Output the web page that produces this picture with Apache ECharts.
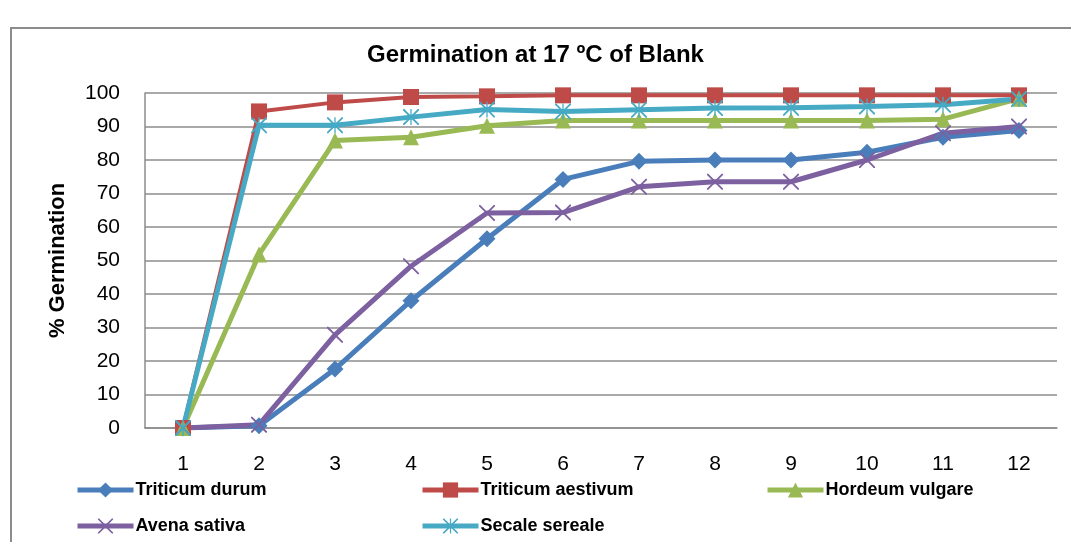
<!DOCTYPE html>
<html>
<head>
<meta charset="utf-8">
<script src="https://cdn.jsdelivr.net/npm/echarts@6/dist/echarts.min.js"></script>
<style>
  html, body { margin: 0; padding: 0; background: #fff; }
</style>
</head>
<body>
<div id="main" style="width: 1071px;height:542px;"></div>
<script>
// days
var days = ['1', '2', '3', '4', '5', '6', '7', '8', '9', '10', '11', '12'];
// % germination per species
var triticumDurum = [0, 0.7, 17.6, 38, 56.5, 74.2, 79.6, 80, 80, 82.3, 86.8, 88.8];
var triticumAestivum = [0, 94.5, 97.2, 98.8, 99, 99.3, 99.3, 99.3, 99.3, 99.3, 99.3, 99.3];
var hordeumVulgare = [0, 51.8, 85.8, 86.8, 90.2, 91.8, 91.8, 91.8, 91.8, 91.8, 92.2, 98.3];
var avenaSativa = [0, 1, 27.8, 48.3, 64.2, 64.3, 72, 73.5, 73.5, 80, 88, 90];
var secaleSereale = [0, 90.4, 90.4, 92.8, 95.1, 94.5, 95, 95.5, 95.6, 96, 96.5, 98.2];
var yTicks = [0, 10, 20, 30, 40, 50, 60, 70, 80, 90, 100];

var xMark = 'path://M0,0 L1.6,0 L10,8.4 L18.4,0 L20,0 L20,1.6 L11.6,10 L20,18.4 L20,20 L18.4,20 L10,11.6 L1.6,20 L0,20 L0,18.4 L8.4,10 L0,1.6 Z';
var starMark = xMark + ' M9.2,0 L10.8,0 L10.8,20 L9.2,20 Z';

var myChart = echarts.init(document.getElementById('main'));

function line(name, data, color, symbol, size, width) {
  return {
    name: name,
    type: 'line',
    data: data,
    symbol: symbol,
    symbolSize: size,
    showAllSymbol: true,
    lineStyle: { color: color, width: width },
    itemStyle: { color: color },
    emphasis: { disabled: true },
    animation: false
  };
}

// one legend per entry so the columns sit where Excel put them
function legendAt(name, left, top) {
  return {
    left: left, top: top, padding: 0,
    itemWidth: 56, itemHeight: 19, itemGap: 0,
    data: [name],
    lineStyle: { width: 5 },
    textStyle: { fontFamily: 'Liberation Sans', fontWeight: 'bold', fontSize: 18, color: '#000', padding: [0, 0, 0, -3] }
  };
}

var option = {
  backgroundColor: '#fff',
  title: {
    text: 'Germination at 17 ºC of Blank',
    left: 'center',
    top: 38,
    textStyle: { fontFamily: 'Liberation Sans', fontWeight: 'bold', fontSize: 24, color: '#000' }
  },
  graphic: [{
    type: 'polyline',
    shape: { points: [[11, 560], [11, 28], [1090, 28]] },
    style: { stroke: '#8c8c8c', lineWidth: 2, fill: null }
  }],
  legend: [
    legendAt('Triticum durum', 75, 481),
    legendAt('Triticum aestivum', 420, 481),
    legendAt('Hordeum vulgare', 765, 481),
    legendAt('Avena sativa', 75, 517),
    legendAt('Secale sereale', 420, 517)
  ],
  grid: { left: 145, right: 14, top: 93, bottom: 114 },
  xAxis: {
    type: 'category',
    data: days,
    boundaryGap: true,
    axisLine: { lineStyle: { color: '#8c8c8c', width: 1.5 } },
    axisTick: { show: false },
    axisLabel: { fontFamily: 'Liberation Sans', fontSize: 21, color: '#000', margin: 26 }
  },
  yAxis: {
    type: 'value',
    min: 0,
    max: 100,
    interval: 10,
    name: '% Germination',
    nameLocation: 'middle',
    nameGap: 76,
    nameTextStyle: { fontFamily: 'Liberation Sans', fontWeight: 'bold', fontSize: 22, color: '#000' },
    axisLine: { show: true, lineStyle: { color: '#8c8c8c', width: 1.5 } },
    axisTick: { show: false },
    axisLabel: {
      fontFamily: 'Liberation Sans', fontSize: 21, color: '#000', margin: 25,
      formatter: function (v) { return yTicks.indexOf(v) >= 0 ? String(v) : ''; }
    },
    splitLine: { lineStyle: { color: '#8c8c8c', width: 1.5 } }
  },
  series: [
    line('Triticum durum', triticumDurum, '#4A7EBB', 'diamond', 17, 5),
    line('Triticum aestivum', triticumAestivum, '#BE4B48', 'rect', 16, 4),
    line('Hordeum vulgare', hordeumVulgare, '#98B954', 'triangle', 16, 5),
    line('Avena sativa', avenaSativa, '#7D60A0', xMark, 16, 5),
    line('Secale sereale', secaleSereale, '#46AAC5', starMark, 16, 5)
  ]
};

myChart.setOption(option);
</script>
</body>
</html>
